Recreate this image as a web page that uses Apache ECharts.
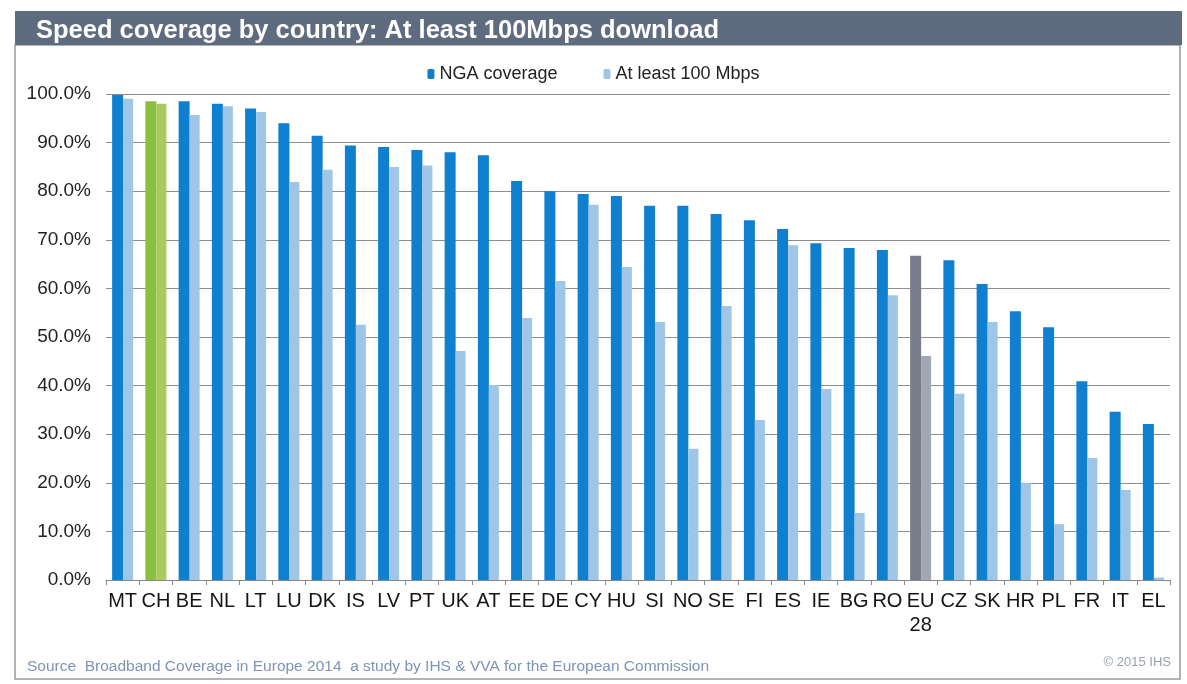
<!DOCTYPE html>
<html><head><meta charset="utf-8">
<script src="https://cdn.jsdelivr.net/npm/echarts@6/dist/echarts.min.js"></script>
<style>html,body{margin:0;padding:0;background:#fff}#c{width:1187px;height:684px}</style>
</head><body><div id="c"></div>
<script>
const categories = ['MT','CH','BE','NL','LT','LU','DK','IS','LV','PT','UK','AT','EE','DE','CY','HU','SI','NO','SE','FI','ES','IE','BG','RO','EU\n28','CZ','SK','HR','PL','FR','IT','EL'];
const ngaCoverage = [99.8,98.5,98.5,98.0,97.0,94.0,91.4,89.4,89.1,88.5,88.0,87.4,82.1,80.0,79.4,79.0,77.0,77.0,75.3,74.0,72.2,69.3,68.3,67.9,66.7,65.8,60.9,55.3,52.0,40.9,34.6,32.1];
const atLeast100 = [99.0,98.0,95.7,97.5,96.3,81.9,84.4,52.5,85.0,85.3,47.1,40.1,53.9,61.5,77.2,64.4,53.1,27.0,56.4,32.9,68.9,39.3,13.8,58.6,46.1,38.3,53.1,20.0,11.5,25.1,18.5,0.5];
const yTicks = [0,10,20,30,40,50,60,70,80,90,100];

const C_NGA='#0f7fcf', C_100='#9fc6e6';
const special = {'CH':['#8cbf3f','#a6cc5e'], 'EU\n28':['#767d89','#a2a8b1']};
function build(vals, idx){
  return vals.map((v,i)=>{
    const s = special[categories[i]];
    return s ? {value:v, itemStyle:{color:s[idx]}} : v;
  });
}
const chart = echarts.init(document.getElementById('c'));
chart.setOption({
  animation:false,
  backgroundColor:'#fff',
  graphic:[
    {type:'rect', shape:{x:15,y:45,width:1165,height:634}, style:{fill:'none',stroke:'#9a9a9a',lineWidth:1.5}},
    {type:'rect', shape:{x:15,y:11,width:1167,height:34}, style:{fill:'#5f6b7f'}},
    {type:'text', right:16, top:656, style:{text:'© 2015 IHS', fill:'#9aa0a8', font:'13px "Liberation Sans Narrow", Arial'}}
  ],
  title:[
    {text:'Speed coverage by country: At least 100Mbps download', left:31, top:13,
     textStyle:{color:'#fff', fontSize:25.5, fontWeight:'bold', fontFamily:'Liberation Sans, Arial'}},
    {text:'Source  Broadband Coverage in Europe 2014  a study by IHS & VVA for the European Commission', left:22, top:654,
     textStyle:{color:'#7d93b8', fontSize:15.5, fontWeight:'normal', fontFamily:'"Liberation Sans Narrow", Arial'}}
  ],
  legend:{top:60, left:'center', itemWidth:7, itemHeight:10, itemGap:46,
    textStyle:{color:'#222', fontSize:18, fontFamily:'"Liberation Sans Narrow", "Liberation Sans", Arial'},
    data:['NGA coverage','At least 100 Mbps']},
  grid:{left:106, right:17, top:94, bottom:104, containLabel:false},
  xAxis:{type:'category', data:categories,
    axisLine:{lineStyle:{color:'#888'}}, axisTick:{show:true, alignWithLabel:false, lineStyle:{color:'#888'}},
    axisLabel:{color:'#151515', fontSize:20, fontFamily:'Liberation Sans, Arial', margin:9, interval:0, lineHeight:24}},
  yAxis:{type:'value', min:0, max:100, interval:10,
    axisLabel:{formatter:v=>v.toFixed(1)+'%', color:'#222', fontSize:19, fontFamily:'Liberation Sans, Arial', margin:15},
    axisLine:{show:false}, axisTick:{show:false},
    splitLine:{lineStyle:{color:'#8e8e8e', width:1}}},
  series:[
    {name:'NGA coverage', type:'bar', data:build(ngaCoverage,0), itemStyle:{color:C_NGA}, barWidth:11, barGap:'0%'},
    {name:'At least 100 Mbps', type:'bar', data:build(atLeast100,1), itemStyle:{color:C_100}, barWidth:10, barGap:'0%'}
  ]
});
</script></body></html>
